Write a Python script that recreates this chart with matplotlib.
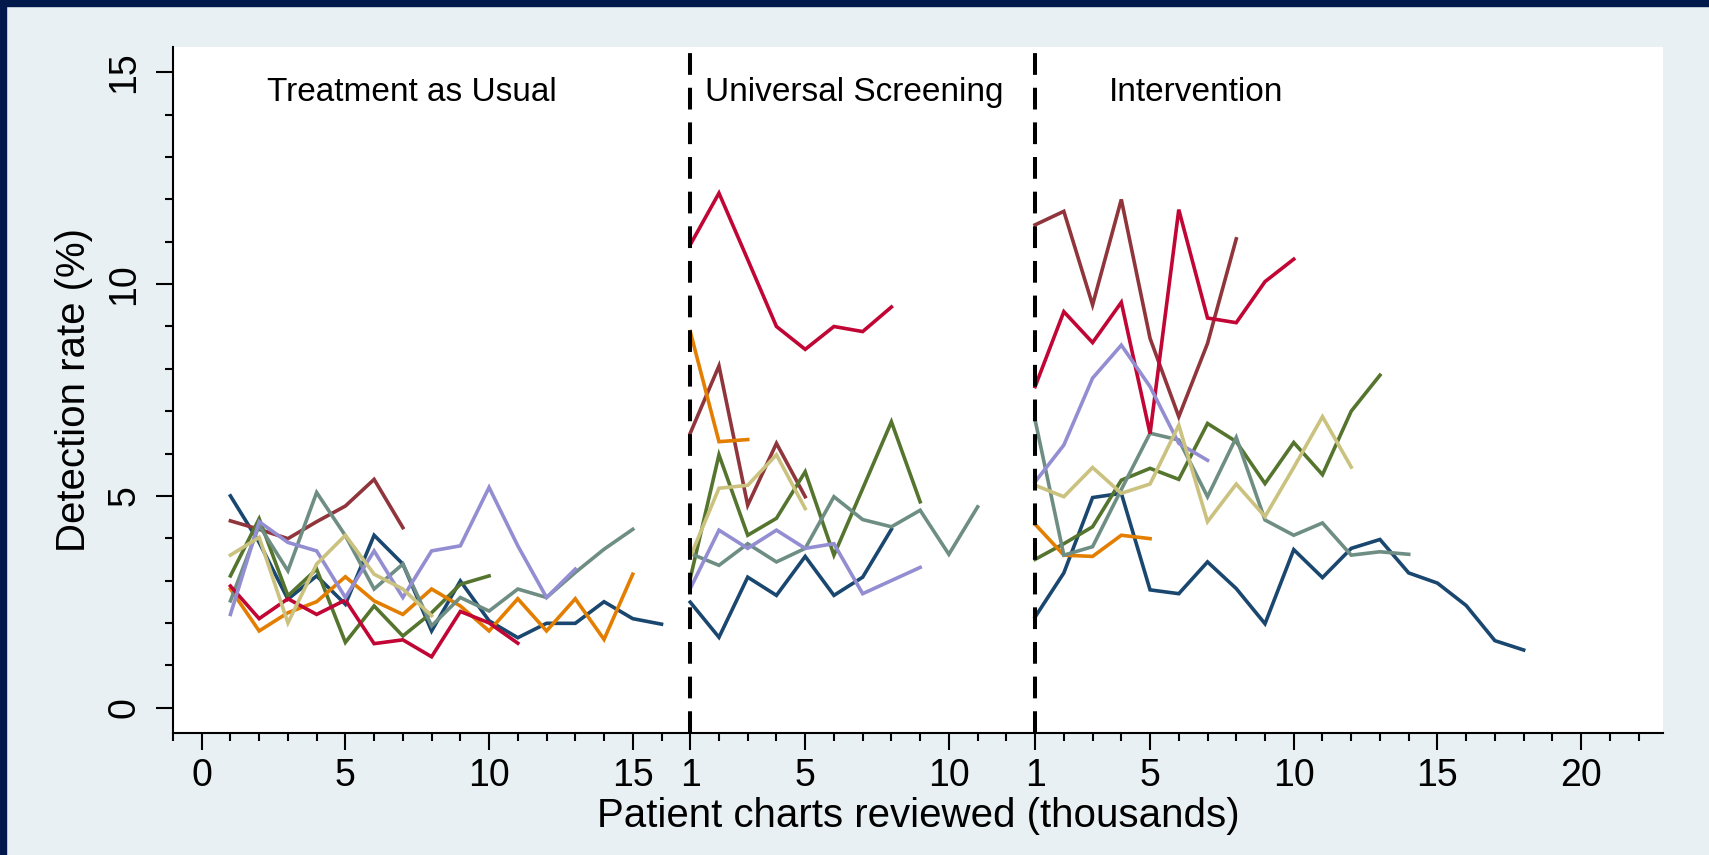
import matplotlib
matplotlib.use('Agg')
import matplotlib.pyplot as plt
from matplotlib.patches import Rectangle
from matplotlib.ticker import FixedLocator, MultipleLocator
import numpy as np

plt.rcParams['font.family'] = ['Liberation Sans', 'DejaVu Sans']

# Stata s2color order: navy, maroon, forest green, dk orange, teal, cranberry, lavender, khaki
site_colors = ['#1a476f', '#90353b', '#55752f', '#e37e00',
               '#6e8e84', '#c10534', '#938dd2', '#cac27e']

# detection rate (%) per thousand charts, one list per site
tau_rates = [
    [5.0, 3.9, 2.56, 3.11, 2.44, 4.07, 3.39, 1.81, 2.99, 2.05, 1.65, 1.99, 1.99, 2.5, 2.1, 1.97],
    [4.41, 4.21, 3.99, 4.39, 4.76, 5.39, 4.25],
    [3.11, 4.46, 2.64, 3.27, 1.54, 2.4, 1.69, 2.24, 2.91, 3.11],
    [2.8, 1.81, 2.24, 2.5, 3.09, 2.52, 2.2, 2.8, 2.4, 1.81, 2.57, 1.81, 2.57, 1.61, 3.15],
    [2.52, 4.3, 3.23, 5.08, 4.06, 2.8, 3.39, 1.93, 2.6, 2.28, 2.8, 2.6, 3.19, 3.74, 4.21],
    [2.87, 2.1, 2.57, 2.2, 2.54, 1.51, 1.6, 1.2, 2.27, 2.0, 1.52],
    [2.2, 4.39, 3.9, 3.7, 2.6, 3.7, 2.6, 3.7, 3.82, 5.2, 3.82, 2.6, 3.27],
    [3.6, 4.02, 2.0, 3.39, 4.07, 3.15, 2.8, 2.17],
]
us_rates = [
    [2.49, 1.66, 3.08, 2.65, 3.57, 2.65, 3.08, 4.21],
    [6.48, 8.07, 4.78, 6.24, 4.98],
    [3.05, 5.97, 4.07, 4.47, 5.57, 3.6, 5.17, 6.75, 4.86],
    [8.88, 6.28, 6.33],
    [3.64, 3.36, 3.87, 3.44, 3.76, 4.98, 4.44, 4.27, 4.66, 3.62, 4.74],
    [10.93, 12.15, 10.58, 9.0, 8.46, 9.0, 8.88, 9.46],
    [2.81, 4.19, 3.76, 4.19, 3.76, 3.87, 2.69, 3.0, 3.31],
    [3.56, 5.18, 5.25, 5.97, 4.7],
]
int_rates = [
    [2.14, 3.18, 4.96, 5.06, 2.78, 2.69, 3.44, 2.81, 1.98, 3.73, 3.07, 3.76, 3.97, 3.18, 2.94, 2.41, 1.58, 1.36],
    [11.4, 11.72, 9.51, 12.0, 8.72, 6.87, 8.6, 11.07],
    [3.5, 3.87, 4.27, 5.37, 5.65, 5.39, 6.71, 6.28, 5.29, 6.26, 5.5, 7.0, 7.85],
    [4.33, 3.6, 3.57, 4.07, 3.99],
    [6.79, 3.6, 3.8, 5.15, 6.48, 6.32, 4.98, 6.38, 4.43, 4.07, 4.36, 3.6, 3.68, 3.62],
    [7.58, 9.35, 8.62, 9.57, 6.47, 11.76, 9.2, 9.09, 10.06, 10.59],
    [5.33, 6.2, 7.78, 8.56, 7.58, 6.24, 5.84],
    [5.25, 4.98, 5.67, 5.06, 5.28, 6.67, 4.39, 5.28, 4.51, 5.67, 6.87, 5.68],
]

phase_names = ['Treatment as Usual', 'Universal Screening', 'Intervention']
phase_offsets = [0, 16, 28]
phase_label_x = [7.3, 22.7, 34.6]
boundary_x = [17, 29]

major_ticks = [0, 5, 10, 15, 17, 21, 26, 29, 33, 38, 43, 48]
major_labels = ['0', '5', '10', '15', '1', '5', '10', '1', '5', '10', '15', '20']

fig = plt.figure(figsize=(17.09, 8.55), dpi=100, facecolor='#e8f0f3')
# dark frame strips on top and left
fig.patches.append(Rectangle((0, 0), 6 / 1709, 1, transform=fig.transFigure,
                             color='#011a4b', zorder=0))
fig.patches.append(Rectangle((0, 1 - 6 / 855), 1, 6 / 855, transform=fig.transFigure,
                             color='#011a4b', zorder=0))

ax = fig.add_axes([0.1012, 0.1427, 0.8719, 0.8023])
ax.set_facecolor('white')

for rates, offset in zip([tau_rates, us_rates, int_rates], phase_offsets):
    for vals, col in zip(rates, site_colors):
        x = offset + np.arange(1, len(vals) + 1)
        ax.plot(x, vals, color=col, lw=2.6, solid_joinstyle='miter')

for bx in boundary_x:
    ax.axvline(bx, color='black', lw=2.9, linestyle=(0, (5.4, 3.2)))

for name, lx in zip(phase_names, phase_label_x):
    ax.text(lx, 14.33, name, ha='center', va='baseline', fontsize=24)

ax.set_xlim(-1, 50.85)
ax.set_ylim(-0.6, 15.6)

ax.xaxis.set_major_locator(FixedLocator(major_ticks))
ax.set_xticklabels(major_labels)
ax.xaxis.set_minor_locator(MultipleLocator(1))
ax.set_yticks([0, 5, 10, 15])
ax.yaxis.set_minor_locator(FixedLocator(range(0, 16)))

ax.tick_params(axis='both', which='major', length=12, width=1.5, labelsize=27, color='black')
ax.tick_params(axis='both', which='minor', length=6, width=1.5)
ax.tick_params(axis='x', which='major', pad=6)
ax.tick_params(axis='y', which='major', pad=10)
for lab in ax.get_yticklabels():
    lab.set_rotation(90)
    lab.set_va('center')

for s in ['top', 'right']:
    ax.spines[s].set_visible(False)
for s in ['left', 'bottom']:
    ax.spines[s].set_linewidth(1.5)

ax.set_xlabel('Patient charts reviewed (thousands)', fontsize=29, labelpad=2)
ax.set_ylabel('Detection rate (%)', fontsize=29, labelpad=10)

fig.savefig('out.png', dpi=100, facecolor=fig.get_facecolor())
